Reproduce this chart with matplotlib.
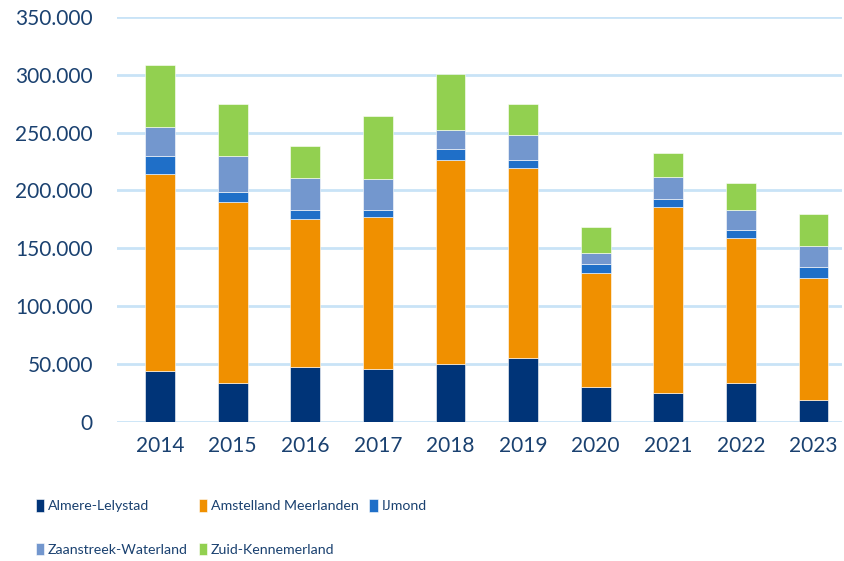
import numpy as np
import matplotlib
matplotlib.use("Agg")
import matplotlib.pyplot as plt
from matplotlib.ticker import FuncFormatter

years = ["2014", "2015", "2016", "2017", "2018", "2019", "2020", "2021", "2022", "2023"]
almere = [44000, 34000, 47000, 46000, 50000, 55000, 30000, 25000, 33500, 19000]
amstelland = [170000, 156000, 128000, 131000, 176000, 164000, 98500, 161000, 125500, 105000]
ijmond = [16000, 9000, 8000, 6000, 10000, 7000, 8000, 7000, 6500, 10000]
zaanstreek = [25000, 31000, 28000, 27000, 16000, 22000, 9000, 19000, 18000, 18000]
zuid_kennemerland = [53000, 45000, 27000, 54000, 49000, 27000, 22500, 20000, 23000, 28000]

series = [
    ("Almere-Lelystad", almere, "#003478"),
    ("Amstelland Meerlanden", amstelland, "#F09000"),
    ("IJmond", ijmond, "#1F6FC8"),
    ("Zaanstreek-Waterland", zaanstreek, "#7397CE"),
    ("Zuid-Kennemerland", zuid_kennemerland, "#92D050"),
]

text_color = "#1A4170"
plt.rcParams['font.family'] = ['Lato', 'DejaVu Sans']

fig = plt.figure(figsize=(8.45, 5.61), dpi=100)
ax = fig.add_axes([0.138, 0.248, 0.859, 0.722])

x = np.arange(len(years))
bottom = np.zeros(len(years))
handles = {}
for name, vals, color in series:
    b = ax.bar(x, vals, width=0.41, bottom=bottom, color=color,
               edgecolor="white", linewidth=0.4, label=name, zorder=3)
    handles[name] = b
    bottom += np.array(vals)

ax.set_ylim(0, 350000)
ax.set_yticks(np.arange(0, 350001, 50000))
ax.yaxis.set_major_formatter(FuncFormatter(lambda v, p: "0" if v == 0 else f"{int(v):,}".replace(",", ".")))
ax.set_xlim(-0.6, 9.4)
ax.set_xticks(x)
ax.set_xticklabels(years)
ax.grid(axis="y", color="#C9E3F7", linewidth=2, zorder=0)
for s in ax.spines.values():
    s.set_visible(False)
ax.tick_params(length=0, labelsize=15, labelcolor=text_color)
ax.tick_params(axis="y", pad=17)
ax.tick_params(axis="x", pad=10)

# legend fills column-wise, so reorder to get the original's row layout
order = ["Almere-Lelystad", "Zaanstreek-Waterland", "Amstelland Meerlanden",
         "Zuid-Kennemerland", "IJmond"]
leg = fig.legend([handles[n] for n in order], order, ncol=3, loc="upper left",
                 bbox_to_anchor=(0.027, 0.133), frameon=False, fontsize=10.2,
                 handlelength=0.58, handleheight=1.0, handletextpad=0.3,
                 columnspacing=0.75, labelspacing=2.15)
for t in leg.get_texts():
    t.set_color(text_color)

fig.savefig("out.png", dpi=100)
